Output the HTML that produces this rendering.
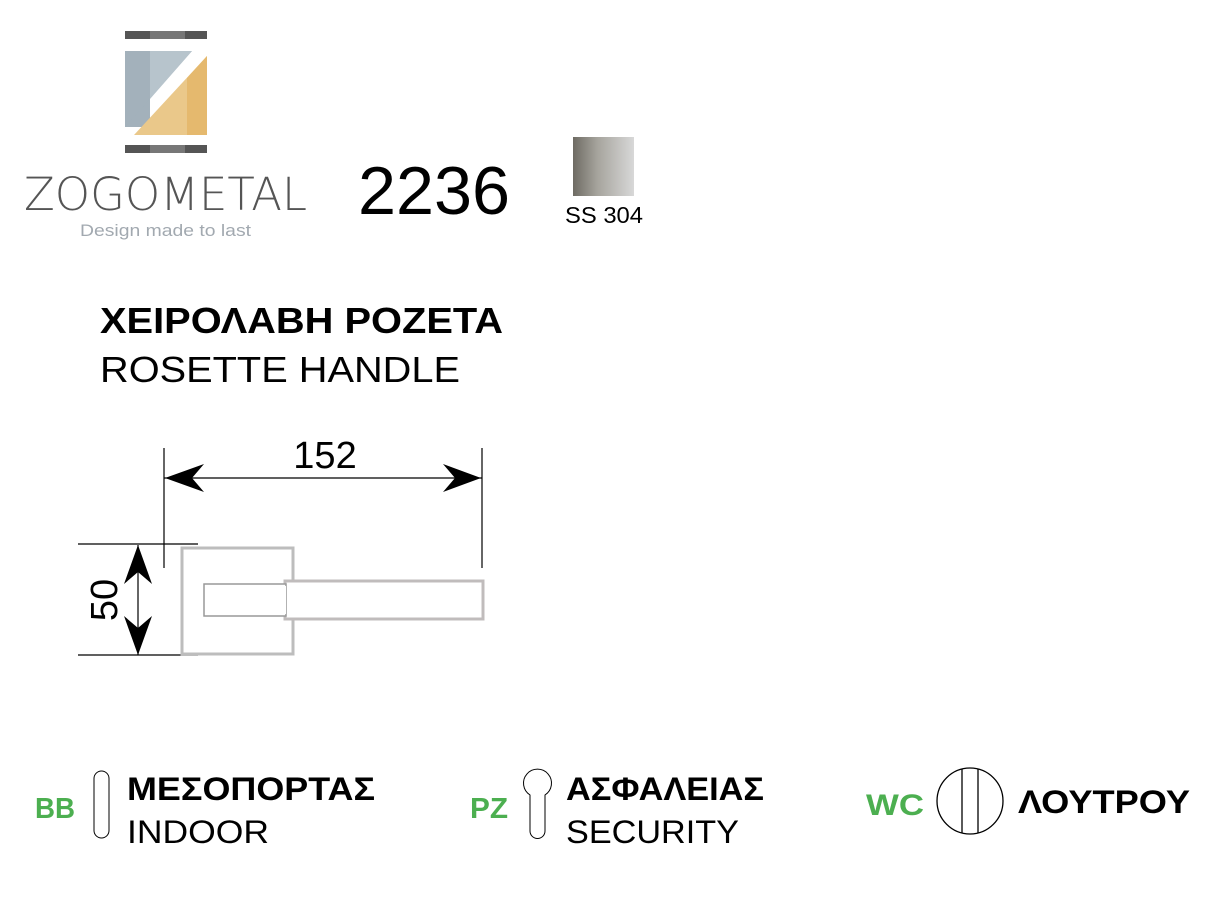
<!DOCTYPE html>
<html><head><meta charset="utf-8"><style>
html,body{margin:0;padding:0;background:#fff;width:1211px;height:916px;overflow:hidden}
svg{display:block}
text{font-family:"Liberation Sans","DejaVu Sans",sans-serif}
</style></head><body>
<svg width="1211" height="916" viewBox="0 0 1211 916" xmlns="http://www.w3.org/2000/svg">
<defs>
<linearGradient id="sw" x1="0" x2="1" y1="0" y2="0">
<stop offset="0" stop-color="#6e6b63"/><stop offset="0.4" stop-color="#a6a49d"/><stop offset="1" stop-color="#d8d8d8"/>
</linearGradient>
</defs>
<!-- logo -->
<rect x="125" y="31" width="25" height="8" fill="#555"/><rect x="150" y="31" width="35" height="8" fill="#777"/><rect x="185" y="31" width="22" height="8" fill="#555"/>
<rect x="125" y="145" width="25" height="8" fill="#555"/><rect x="150" y="145" width="35" height="8" fill="#777"/><rect x="185" y="145" width="22" height="8" fill="#555"/>
<polygon points="125,51 192,51 125,127" fill="#aebcc5"/>
<rect x="125" y="51" width="25" height="76" fill="#a3b1bb"/>
<polygon points="125,51 150,51 150,99 125,127" fill="#a3b1bb"/>
<polygon points="150,51 192,51 150,99" fill="#b7c4cc"/>
<polygon points="207,56 207,135 134,135" fill="#eac88a"/>
<polygon points="187,78 207,56 207,135 187,135" fill="#e5b96e"/>
<text x="24" y="210" font-size="45" fill="#555" textLength="283" lengthAdjust="spacingAndGlyphs" style="font-family:'DejaVu Sans',sans-serif;font-weight:200">ZOGOMETAL</text>
<text x="80" y="236" font-size="17" fill="#a2a9b0" textLength="171" lengthAdjust="spacingAndGlyphs">Design made to last</text>
<!-- code -->
<text x="358" y="214" font-size="68" fill="#000" textLength="152" lengthAdjust="spacingAndGlyphs">2236</text>
<rect x="573" y="137" width="61" height="59" fill="url(#sw)"/>
<text x="565" y="223" font-size="23" fill="#000" textLength="78" lengthAdjust="spacingAndGlyphs">SS 304</text>
<!-- title -->
<text x="100" y="333" font-size="36" font-weight="bold" fill="#000" textLength="403" lengthAdjust="spacingAndGlyphs">ΧΕΙΡΟΛΑΒΗ ΡΟΖΕΤΑ</text>
<text x="100" y="382" font-size="36" fill="#000" textLength="360" lengthAdjust="spacingAndGlyphs">ROSETTE HANDLE</text>
<!-- drawing -->
<g stroke="#000" stroke-width="1.2">
<line x1="164" y1="448" x2="164" y2="568"/>
<line x1="482" y1="448" x2="482" y2="568"/>
<line x1="164" y1="478" x2="482" y2="478"/>
<line x1="78" y1="544" x2="198" y2="544"/>
<line x1="78" y1="655" x2="198" y2="655"/>
<line x1="138" y1="545" x2="138" y2="655"/>
</g>
<polygon points="165,478 204,464 192,478 204,492" fill="#000"/>
<polygon points="481,478 443,464 455,478 443,492" fill="#000"/>
<polygon points="138,545 124,584 138,572 152,584" fill="#000"/>
<polygon points="138,655 124,616 138,628 152,616" fill="#000"/>
<text x="325" y="468" font-size="38" fill="#000" text-anchor="middle">152</text>
<text transform="translate(117,600) rotate(-90)" font-size="38" fill="#000" text-anchor="middle">50</text>
<rect x="182" y="548" width="111" height="106" fill="none" stroke="#bdbdbd" stroke-width="3"/>
<rect x="285" y="581" width="198" height="38" fill="#fff" stroke="#c0bcbc" stroke-width="3"/>
<rect x="204" y="584" width="82" height="32" fill="#fff" stroke="#999" stroke-width="1.5"/>
<line x1="285" y1="586" x2="285" y2="614" stroke="#fff" stroke-width="2"/>
<!-- bottom -->
<text x="35" y="818" font-size="29" font-weight="bold" fill="#4caf50" textLength="40" lengthAdjust="spacingAndGlyphs">BB</text>
<rect x="94" y="771" width="15" height="67" rx="7.5" fill="none" stroke="#000" stroke-width="1"/>
<text x="127" y="800" font-size="32" font-weight="bold" fill="#000" textLength="248" lengthAdjust="spacingAndGlyphs">ΜΕΣΟΠΟΡΤΑΣ</text>
<text x="127" y="843" font-size="32" fill="#000" textLength="142" lengthAdjust="spacingAndGlyphs">INDOOR</text>
<text x="470" y="818" font-size="29" font-weight="bold" fill="#4caf50" textLength="38" lengthAdjust="spacingAndGlyphs">PZ</text>
<path d="M530,795 A14,14 0 1 1 545,795 L545,831 A7.5,7.5 0 0 1 530,831 Z" fill="none" stroke="#000" stroke-width="1"/>
<text x="566" y="800" font-size="32" font-weight="bold" fill="#000" textLength="198" lengthAdjust="spacingAndGlyphs">ΑΣΦΑΛΕΙΑΣ</text>
<text x="566" y="843" font-size="32" fill="#000" textLength="173" lengthAdjust="spacingAndGlyphs">SECURITY</text>
<text x="866" y="815" font-size="30" font-weight="bold" fill="#4caf50" textLength="58" lengthAdjust="spacingAndGlyphs">WC</text>
<circle cx="970" cy="801" r="33" fill="none" stroke="#000" stroke-width="1.3"/>
<line x1="962" y1="769" x2="962" y2="833" stroke="#000" stroke-width="1.3"/>
<line x1="978" y1="769" x2="978" y2="833" stroke="#000" stroke-width="1.3"/>
<text x="1018" y="813" font-size="32" font-weight="bold" fill="#000" textLength="172" lengthAdjust="spacingAndGlyphs">ΛΟΥΤΡΟΥ</text>
</svg>
</body></html>
